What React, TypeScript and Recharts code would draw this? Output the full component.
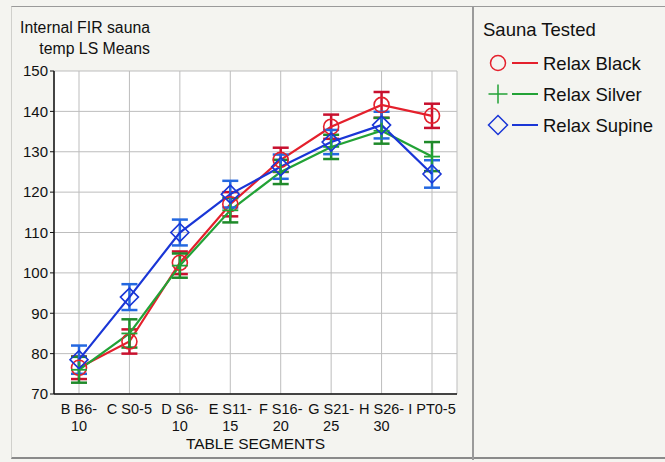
import React from "react";
import { LineChart, Line, XAxis, YAxis, CartesianGrid, ErrorBar } from "recharts";

const categories = ["B B6-|10", "C S0-5", "D S6-|10", "E S11-|15", "F S16-|20", "G S21-|25", "H S26-|30", "I PT0-5"];
const relaxBlack = [76.5, 83, 102.5, 117, 128, 136.2, 141.6, 138.9];
const relaxBlackErr = [2.8, 3, 2.8, 3, 3, 3, 3.2, 3];
const relaxSilver = [76, 85, 101.8, 115.5, 125, 131.2, 135.2, 128.8];
const relaxSilverErr = [3.2, 3.5, 3, 3, 3, 3, 3.2, 3.6];
const relaxSupine = [78.5, 94, 110, 119.5, 126.3, 132.4, 136.6, 124.5];
const relaxSupineErr = [3.5, 3.2, 3.2, 3.3, 3, 3, 3.3, 3.4];
const yTicks = [70, 80, 90, 100, 110, 120, 130, 140, 150];

const series = [
  { key: "black", name: "Relax Black", line: "#e4202c", err: "#c8102e", marker: "circle" },
  { key: "silver", name: "Relax Silver", line: "#22a236", err: "#1f8a2a", marker: "plus" },
  { key: "supine", name: "Relax Supine", line: "#1a36d6", err: "#2468e0", marker: "diamond" },
];

const data = categories.map((c, i) => ({
  cat: c,
  black: relaxBlack[i],
  blackErr: relaxBlackErr[i],
  silver: relaxSilver[i],
  silverErr: relaxSilverErr[i],
  supine: relaxSupine[i],
  supineErr: relaxSupineErr[i],
}));

const FONT = "'Liberation Sans', Arial, sans-serif";

function Marker({ type, cx, cy, color }: any) {
  if (cx == null || cy == null) return null;
  if (type === "circle")
    return <circle cx={cx} cy={cy} r={7.5} fill="none" stroke={color} strokeWidth={1.6} />;
  if (type === "plus")
    return (
      <g stroke={color} strokeWidth={1.8}>
        <line x1={cx - 8} y1={cy} x2={cx + 8} y2={cy} />
        <line x1={cx} y1={cy - 8} x2={cx} y2={cy + 8} />
      </g>
    );
  return (
    <polygon
      points={`${cx},${cy - 9} ${cx + 9},${cy} ${cx},${cy + 9} ${cx - 9},${cy}`}
      fill="none"
      stroke={color}
      strokeWidth={1.6}
    />
  );
}

const XTick = (props: any) => {
  const { x, y, payload } = props;
  const parts = String(payload.value).split("|");
  return (
    <text x={x} y={y} textAnchor="middle" fontFamily={FONT} fontSize={14.5} fill="#111">
      {parts.map((p, i) => (
        <tspan key={i} x={x} y={y + 12 + i * 17}>
          {p}
        </tspan>
      ))}
    </text>
  );
};

const LegendBox = () => (
  <svg width={192} height={150} style={{ display: "block" }}>
    <text x={10} y={36} fontFamily={FONT} fontSize={18.5} fill="#111">
      Sauna Tested
    </text>
    {series.map((s, i) => {
      const cy = 63 + i * 31;
      return (
        <g key={s.key}>
          {s.marker === "circle" && <circle cx={25} cy={cy} r={7.5} fill="none" stroke={s.line} strokeWidth={1.5} />}
          {s.marker === "plus" && (
            <g stroke={s.line} strokeWidth={1.5}>
              <line x1={15.5} y1={cy} x2={34.5} y2={cy} />
              <line x1={25} y1={cy - 9.5} x2={25} y2={cy + 9.5} />
            </g>
          )}
          {s.marker === "diamond" && (
            <polygon
              points={`25,${cy - 9.5} 34.5,${cy} 25,${cy + 9.5} 15.5,${cy}`}
              fill="none"
              stroke={s.line}
              strokeWidth={1.5}
            />
          )}
          <line x1={39} y1={cy} x2={65} y2={cy} stroke={s.line} strokeWidth={2} />
          <text x={70} y={cy + 6.5} fontFamily={FONT} fontSize={18.5} fill="#111">
            {s.name}
          </text>
        </g>
      );
    })}
  </svg>
);

export default function App() {
  return (
    <div style={{ position: "absolute", left: 0, top: 0, width: 665, height: 462, background: "#f4f4f0", overflow: "hidden" }}>
      <div style={{ position: "absolute", left: 11, top: 6, width: 654, height: 453, borderTop: "1.5px solid #9a9a9a", borderLeft: "1px solid #d0d0cc", borderBottom: "2px solid #8a8a8a", boxSizing: "border-box" }} />
      <div style={{ position: "absolute", left: 472, top: 6, width: 1.5, height: 454, background: "#9a9a9a" }} />
      <div style={{ position: "absolute", left: 473, top: 0 }}>
        <LegendBox />
      </div>
      <div style={{ position: "absolute", left: 0, top: 0 }}>
        <LineChart width={665} height={462} data={data} margin={{ top: 71, right: 208, bottom: 0, left: 10 }}>
          <CartesianGrid stroke="#bdbdbd" strokeWidth={1} fill="#ffffff" />
          <XAxis
            dataKey="cat"
            interval={0}
            padding={{ left: 25, right: 25 }}
            height={68}
            tick={<XTick />}
            tickLine={false}
            axisLine={{ stroke: "#111", strokeWidth: 1.5 }}
            label={{
              content: () => (
                <text x={255.5} y={449} textAnchor="middle" fontFamily={FONT} fontSize={15.5} fill="#111">
                  TABLE SEGMENTS
                </text>
              ),
            }}
          />
          <XAxis xAxisId="top" orientation="top" dataKey="cat" height={0} tick={false} tickLine={false} axisLine={{ stroke: "#111", strokeWidth: 1.5 }} />
          <YAxis
            domain={[70, 150]}
            ticks={yTicks}
            interval={0}
            width={44}
            tickSize={4}
            tickMargin={2}
            tick={{ fontFamily: FONT, fontSize: 15, fill: "#111" }}
            tickLine={{ stroke: "#111" }}
            axisLine={{ stroke: "#111", strokeWidth: 1.5 }}
            label={{
              content: () => (
                <text fontFamily={FONT} fontSize={15.8} fill="#111" textAnchor="end">
                  <tspan x={150} y={33}>Internal FIR sauna</tspan>
                  <tspan x={150} y={54}>temp LS Means</tspan>
                </text>
              ),
            }}
          />
          <YAxis yAxisId="right" orientation="right" domain={[70, 150]} width={0} tick={false} tickLine={false} axisLine={{ stroke: "#111", strokeWidth: 1.5 }} />
          {series.map((s) => (
            <Line
              key={s.key}
              dataKey={s.key}
              name={s.name}
              stroke={s.line}
              strokeWidth={2.2}
              isAnimationActive={false}
              dot={(p: any) => <Marker key={`${s.key}-${p.index}`} type={s.marker} cx={p.cx} cy={p.cy} color={s.line} />}
              activeDot={false}
            >
              <ErrorBar dataKey={`${s.key}Err`} width={8} stroke={s.err} strokeWidth={2.5} direction="y" isAnimationActive={false} />
            </Line>
          ))}
        </LineChart>
      </div>
    </div>
  );
}
